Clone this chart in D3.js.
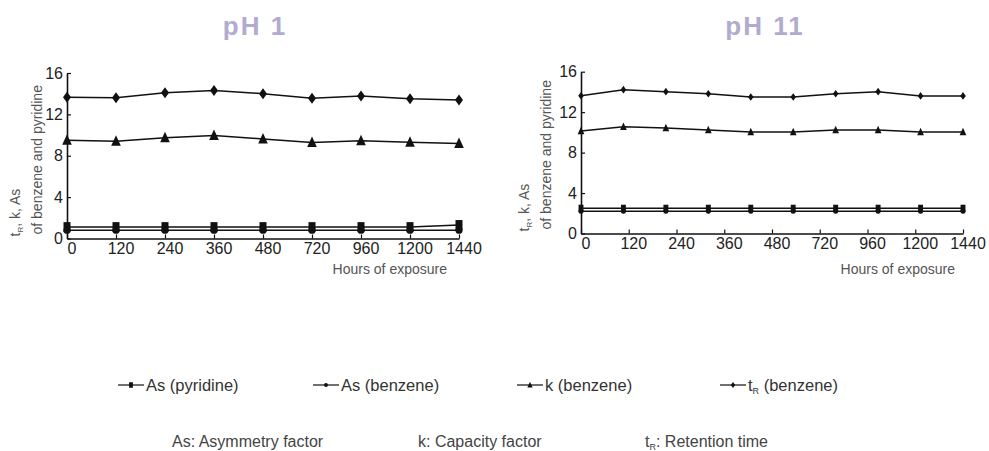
<!DOCTYPE html>
<html><head><meta charset="utf-8">
<script src="https://cdn.jsdelivr.net/npm/d3@7"></script>
<style>body{margin:0;background:#fff}svg{display:block}text{font-family:"Liberation Sans",Arial,sans-serif}</style>
</head><body><svg id="c" width="989" height="451"></svg>
<script>
const tickLabels = ["0","120","240","360","480","720","960","1200","1440"];
const yTicks = [0,4,8,12,16];
// pH 1: one point per tick label
const pH1_asPyridine = [1.1,1.1,1.1,1.1,1.1,1.1,1.1,1.1,1.3];
const pH1_asBenzene  = [0.8,0.8,0.8,0.8,0.8,0.8,0.8,0.8,0.8];
const pH1_kBenzene   = [9.5,9.4,9.73,9.96,9.63,9.28,9.44,9.31,9.18];
const pH1_tRBenzene  = [13.65,13.6,14.1,14.3,14.0,13.55,13.77,13.5,13.4];
// pH 11: ten sampling points spread over the axis
const pH11_sample = [0,1,2,3,4,5,6,7,8,9];
const pH11_asPyridine = [2.5,2.5,2.5,2.5,2.5,2.5,2.5,2.5,2.5,2.5];
const pH11_asBenzene  = [2.2,2.2,2.2,2.2,2.2,2.2,2.2,2.2,2.2,2.2];
const pH11_kBenzene   = [10.13,10.55,10.43,10.23,10.03,10.03,10.23,10.23,10.03,10.03];
const pH11_tRBenzene  = [13.62,14.22,14.02,13.82,13.5,13.5,13.82,14.02,13.6,13.6];

const svg = d3.select("#c");
const FONT = '"Liberation Sans",Arial,sans-serif';

function shape(type, s){
  const w=s, h=s;
  if(type==="square") return `M${-3.5*w},${-5*h}H${3.5*w}V${5*h}H${-3.5*w}Z`;
  if(type==="circle") return `M${-3.6*w},0A${3.6*w},${3.6*w} 0 1,0 ${3.6*w},0A${3.6*w},${3.6*w} 0 1,0 ${-3.6*w},0Z`;
  if(type==="triangle") return `M0,${-6*h}L${4.8*w},${4.5*h}L${-4.8*w},${4.5*h}Z`;
  if(type==="diamond") return `M0,${-5.5*h}L${4*w},0L0,${5.5*h}L${-4*w},0Z`;
}

function panel(opt){
  const g = svg.append("g");
  const y = d3.scaleLinear().domain([0,16]).range([opt.y0,opt.y16]);
  const xt = d3.scalePoint().domain(tickLabels).range([opt.x0,opt.x1]);
  const ax = g.append("g").attr("transform",`translate(0,${opt.y0})`)
    .call(d3.axisBottom(xt).tickSize(-4).tickSizeOuter(0).tickPadding(4));
  ax.selectAll("text").attr("dx",4.5);
  const ay = g.append("g").attr("transform",`translate(${opt.x0},0)`)
    .call(d3.axisLeft(y).tickValues(yTicks).tickSize(-4).tickSizeOuter(0).tickPadding(4));
  [ax,ay].forEach(a=>{
    a.selectAll("path.domain").attr("stroke","#111").attr("stroke-width",1.6);
    a.selectAll("line").attr("stroke","#111").attr("stroke-width",1.2);
    a.selectAll("text").attr("font-family",FONT).attr("font-size",16).attr("fill","#222");
  });
  // title
  g.append("text").attr("x",opt.tx).attr("y",35).attr("text-anchor","middle")
    .attr("font-family",FONT).attr("font-size",26).attr("font-weight","bold").attr("letter-spacing",2)
    .attr("fill","#b1abd0").text(opt.title);
  // y label
  const yl = g.append("text").attr("transform",`translate(${opt.ylx},${opt.y0-2}) rotate(-90)`)
    .attr("text-anchor","start").attr("font-family",FONT).attr("font-size",14).attr("fill","#555");
  yl.append("tspan").text("t");
  yl.append("tspan").attr("font-size",8).attr("dy",3).text("R");
  yl.append("tspan").attr("dy",-3).text(", k, As");
  g.append("text").attr("transform",`translate(${opt.ylx+22},${opt.y0-4}) rotate(-90)`)
    .attr("text-anchor","start").attr("font-family",FONT).attr("font-size",14).attr("fill","#555")
    .text("of benzene and pyridine");
  // x label
  g.append("text").attr("x",opt.xlx).attr("y",274).attr("text-anchor","end")
    .attr("font-family",FONT).attr("font-size",14).attr("fill","#555").text("Hours of exposure");
  // series
  const xs = opt.xs;
  const line = d3.line().x(d=>xs(d[0])).y(d=>y(d[1]));
  opt.series.forEach(s=>{
    const pts = opt.xvals.map((xv,i)=>[xv,s.values[i]]);
    g.append("path").attr("d",line(pts)).attr("fill","none").attr("stroke","#111").attr("stroke-width",1.5);
    g.selectAll(null).data(pts).enter().append("path")
      .attr("transform",d=>`translate(${xs(d[0])},${y(d[1])})`)
      .attr("d",shape(s.type,opt.ms)).attr("fill","#111");
  });
}

// pH 1
(function(){
  const xpt = d3.scalePoint().domain(tickLabels).range([67,459]);
  panel({title:"pH 1",tx:255,x0:67,x1:459,y0:238.5,y16:73,ylx:20,xlx:447,ms:1,
    xs:xpt,xvals:tickLabels,
    series:[
      {type:"square",values:pH1_asPyridine},
      {type:"circle",values:pH1_asBenzene},
      {type:"triangle",values:pH1_kBenzene},
      {type:"diamond",values:pH1_tRBenzene}
    ]});
})();
// pH 11
(function(){
  const xl = d3.scaleLinear().domain([0,9]).range([581,963]);
  panel({title:"pH 11",tx:765,x0:581,x1:963,y0:233.5,y16:71.7,ylx:529,xlx:955,ms:0.7,
    xs:xl,xvals:pH11_sample,
    series:[
      {type:"square",values:pH11_asPyridine},
      {type:"circle",values:pH11_asBenzene},
      {type:"triangle",values:pH11_kBenzene},
      {type:"diamond",values:pH11_tRBenzene}
    ]});
})();

// legend
const legendItems = [
  {type:"square",x:118,label:["As (pyridine)"]},
  {type:"circle",x:313,label:["As (benzene)"]},
  {type:"triangle",x:517,label:["k (benzene)"]},
  {type:"diamond",x:720,label:["t","R"," (benzene)"]}
];
const lg = svg.append("g");
legendItems.forEach(it=>{
  lg.append("line").attr("x1",it.x).attr("x2",it.x+26).attr("y1",385).attr("y2",385).attr("stroke","#111").attr("stroke-width",1.2);
  lg.append("path").attr("transform",`translate(${it.x+13},385)`).attr("d",shape(it.type,0.55)).attr("fill","#111");
  const t = lg.append("text").attr("x",it.x+28).attr("y",391).attr("font-family",FONT).attr("font-size",16.5).attr("fill","#333");
  if(it.label.length===1) t.text(it.label[0]);
  else { t.append("tspan").text(it.label[0]); t.append("tspan").attr("font-size",9).attr("dy",3).text(it.label[1]); t.append("tspan").attr("dy",-3).text(it.label[2]); }
});
// footnote
const fn = svg.append("g").attr("font-family",FONT).attr("font-size",16).attr("fill","#444");
fn.append("text").attr("x",172).attr("y",447).text("As: Asymmetry factor");
fn.append("text").attr("x",418).attr("y",447).text("k: Capacity factor");
const ft = fn.append("text").attr("x",645).attr("y",447);
ft.append("tspan").text("t"); ft.append("tspan").attr("font-size",9).attr("dy",3).text("R"); ft.append("tspan").attr("dy",-3).text(": Retention time");
</script></body></html>
